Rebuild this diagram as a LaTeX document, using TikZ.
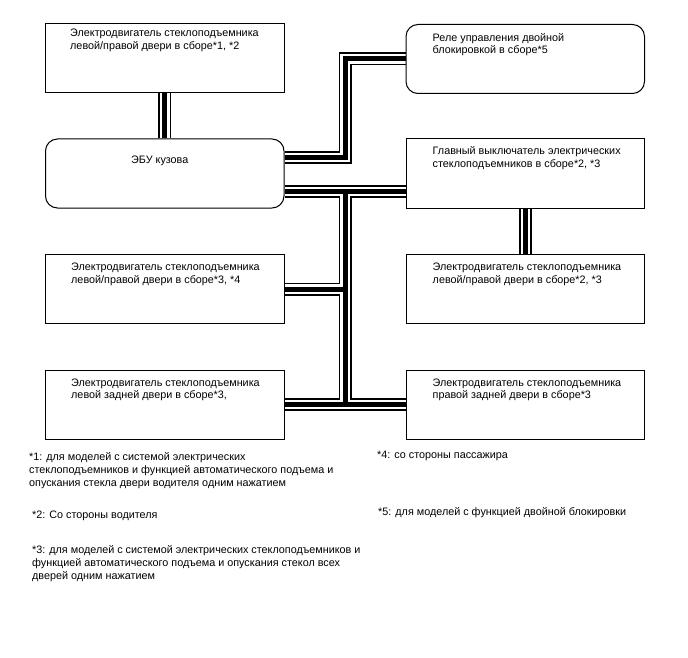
\documentclass[tikz,border=0pt]{standalone}
\usepackage{fontspec}
\setmainfont{Liberation Sans}
\usepackage{tikz}
\usetikzlibrary{positioning, calc, backgrounds}

\newcommand{\boxfont}{\fontsize{10.8}{12.7}\selectfont}
\newcommand{\notefont}{\fontsize{10.8}{13.2}\selectfont}

\begin{document}
\begin{tikzpicture}[
    x=1pt, y=-1pt,
    node distance=45.5pt and 121pt,
    block/.style={rectangle, draw, line width=1pt, fill=white, inner sep=0pt, minimum width=238.5pt, minimum height=69pt},
    round_block/.style={block, rounded corners=12pt},
    box_text/.style={font=\boxfont, align=left, anchor=north west, inner sep=0pt},
    note_text/.style={font=\notefont, align=left, anchor=north west, inner sep=0pt},
    cable/.style={line width=13pt, line join=miter, postaction={draw=white, line width=9.5pt}, postaction={draw=black, line width=5pt}}
]
\useasboundingbox (0,0) rectangle (688,658);

\node[block, anchor=north west] (mot_fl) at (45,23) {};
\node[round_block, below=of mot_fl] (ecu) {};
\node[block, below=of ecu] (mot_l) {};
\node[block, below=of mot_l] (mot_rl) {};
\node[round_block, right=of mot_fl, yshift=-1pt] (relay) {};
\node[block, right=of ecu] (main_sw) {};
\node[block, right=of mot_l] (mot_fr) {};
\node[block, right=of mot_rl] (mot_rr) {};

\node[box_text] at ([xshift=25pt, yshift=-6pt]mot_fl.north west) {Электродвигатель стеклоподъемника\\левой/правой двери в сборе*1, *2};
\node[box_text] at ([xshift=86pt, yshift=-17pt]ecu.north west) {ЭБУ кузова};
\node[box_text] at ([xshift=26pt, yshift=-9pt]mot_l.north west) {Электродвигатель стеклоподъемника\\левой/правой двери в сборе*3, *4};
\node[box_text] at ([xshift=26pt, yshift=-9pt]mot_rl.north west) {Электродвигатель стеклоподъемника\\левой задней двери в сборе*3,};
\node[box_text] at ([xshift=27pt, yshift=-9pt]relay.north west) {Реле управления двойной\\блокировкой в сборе*5};
\node[box_text] at ([xshift=27pt, yshift=-8pt]main_sw.north west) {Главный выключатель электрических\\стеклоподъемников в сборе*2, *3};
\node[box_text] at ([xshift=27pt, yshift=-9pt]mot_fr.north west) {Электродвигатель стеклоподъемника\\левой/правой двери в сборе*2, *3};
\node[box_text] at ([xshift=27pt, yshift=-9pt]mot_rr.north west) {Электродвигатель стеклоподъемника\\правой задней двери в сборе*3};

\node[note_text] (note_1) at (29,452) {*1: для моделей с системой электрических\\стеклоподъемников и функцией автоматического подъема и\\опускания стекла двери водителя одним нажатием};
\node[note_text] (note_2) at (32,511) {*2: Со стороны водителя};
\node[note_text] (note_3) at (32,545) {*3: для моделей с системой электрических стеклоподъемников и\\функцией автоматического подъема и опускания стекол всех\\дверей одним нажатием};
\node[note_text] (note_4) at (377,451) {*4: со стороны пассажира};
\node[note_text] (note_5) at (378,507) {*5: для моделей с функцией двойной блокировки};

\coordinate (bus) at ($(ecu.east)!0.5!(main_sw.west)$);
\coordinate (relay_out) at ([yshift=16pt]ecu.east);
\coordinate (sw_in) at ([yshift=-18pt]main_sw.west);

\begin{scope}[on background layer]
\draw[cable] (mot_fl.south) -- (ecu.north);
\draw[cable] (relay_out) -- (relay_out -| bus) |- (relay.west);
\draw[cable] (ecu.east |- sw_in) -- (sw_in)
    (bus |- sw_in) -- (bus |- mot_rl.east)
    (mot_l.east) -- (mot_l.east -| bus)
    (mot_rl.east) -- (mot_rr.west);
\draw[cable] (main_sw.south) -- (mot_fr.north);
\end{scope}
\end{tikzpicture}
\end{document}
